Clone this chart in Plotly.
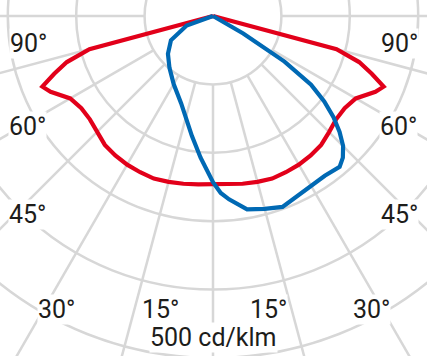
import numpy as np
import plotly.graph_objects as go

# ---------------- data (cd/klm) ----------------
# red plane (symmetric), angle from nadir in degrees, one half
red_angles = [0, 5, 10, 15, 20, 25, 30, 35, 40, 45, 50, 55, 60, 65, 67.5, 70, 72.5, 75, 80, 90]
red_values = [246, 247, 249, 251, 253, 252, 251, 249, 246, 240, 235, 235, 241, 262, 270, 247, 224, 187, 0, 0]

# blue plane (asymmetric), signed angle (negative = left)
blue_angles = [-90, -70, -60, -50, -40, -30, -20, -15, -10, -5, -2.5, 0, 2.5, 5, 10, 15, 20, 25,
               30, 35, 40, 42.5, 45, 47.5, 50, 52.5, 55, 57.5, 60, 90]
blue_values = [0, 41, 71, 86, 99, 115, 136, 153, 178, 208, 224, 243, 259, 269, 287, 292, 297, 291,
               287, 285, 288, 281, 269, 251, 230, 205, 175, 124, 51, 0]

grid_radii = [100, 200, 300, 400, 500]
spoke_angles = [-90, -75, -60, -45, -30, -15, 0, 15, 30, 45, 60, 75, 90]
angle_labels = ["90°", "60°", "45°", "30°", "15°", "15°", "30°", "45°", "60°", "90°"]
scale_label = "500 cd/klm"

# ---------------- geometry helpers ----------------
S = 0.684  # px per cd/klm
CX, CY, W, H = 213, 16, 427, 356

def to_xy(ang, val):
    a = np.radians(np.asarray(ang, dtype=float))
    v = np.asarray(val, dtype=float)
    return v * np.sin(a), -v * np.cos(a)

full_red_ang = [-a for a in red_angles[::-1]] + red_angles[1:]
full_red_val = red_values[::-1] + red_values[1:]
rx, ry = to_xy(full_red_ang, full_red_val)
bx, by = to_xy(blue_angles, blue_values)

fig = go.Figure()
fig.add_trace(go.Scatter(x=rx, y=ry, mode="lines",
                         line=dict(color="#e2001a", width=4.2, shape="linear"),
                         hoverinfo="skip"))
fig.add_trace(go.Scatter(x=bx, y=by, mode="lines",
                         line=dict(color="#0069b4", width=4.2),
                         hoverinfo="skip"))

grid_col = "#d7d7d7"
shapes = []
for r in grid_radii:
    shapes.append(dict(type="circle", xref="x", yref="y", x0=-r, x1=r, y0=-r, y1=r,
                       line=dict(color=grid_col, width=2.5), layer="below"))
for a in spoke_angles:
    x0, y0 = to_xy([a], [grid_radii[0]])
    x1, y1 = to_xy([a], [900])
    shapes.append(dict(type="line", xref="x", yref="y", x0=x0[0], y0=y0[0], x1=x1[0], y1=y1[0],
                       line=dict(color=grid_col, width=2.5), layer="below"))

label_pos = [(28, 44), (27, 127), (27, 214), (56, 309), (160, 309),
             (268, 309), (371, 309), (399, 214), (398, 127), (399, 44)]
font = dict(family="Roboto", size=25, color="#1d1d1b")
annotations = []
for t, (px, py) in zip(angle_labels, label_pos):
    annotations.append(dict(text=t, xref="paper", yref="paper", x=px / W, y=1 - py / H,
                            xanchor="center", yanchor="middle", showarrow=False,
                            font=font, bgcolor="white", borderpad=0))
annotations.append(dict(text=scale_label, xref="paper", yref="paper", x=213 / W, y=1 - 337 / H,
                        xanchor="center", yanchor="middle", showarrow=False,
                        font=font, bgcolor="white", borderpad=0))

fig.update_layout(
    width=W, height=H, margin=dict(l=0, r=0, t=0, b=0),
    paper_bgcolor="white", plot_bgcolor="white", showlegend=False,
    xaxis=dict(range=[-CX / S, (W - CX) / S], visible=False, fixedrange=True),
    yaxis=dict(range=[-(H - CY) / S, CY / S], visible=False, fixedrange=True),
    shapes=shapes, annotations=annotations,
)
fig.write_html("out.html", config={"displayModeBar": False, "staticPlot": True},
               post_script="document.body.style.margin='0';")
